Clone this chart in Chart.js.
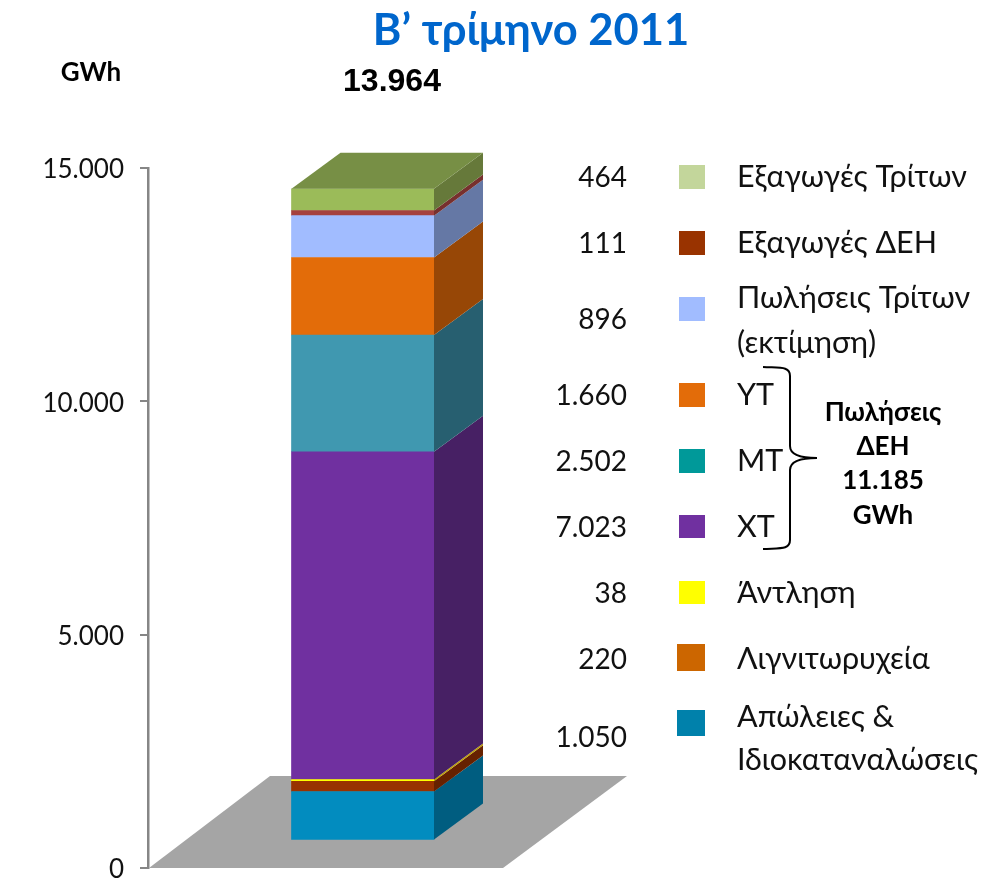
<!DOCTYPE html>
<html>
<head>
<meta charset="utf-8">
<script src="https://cdn.jsdelivr.net/npm/chart.js@4"></script>
<style>
  html, body { margin: 0; padding: 0; background: #fff; }
  #wrap { width: 988px; height: 880px; }
</style>
</head>
<body>
<div id="wrap"><canvas id="chart" width="988" height="880"></canvas></div>
<script>
// bottom to top
var categories = ['Απώλειες & Ιδιοκαταναλώσεις', 'Λιγνιτωρυχεία', 'Άντληση', 'ΧΤ', 'ΜΤ', 'ΥΤ', 'Πωλήσεις Τρίτων (εκτίμηση)', 'Εξαγωγές ΔΕΗ', 'Εξαγωγές Τρίτων'];
var values = [1050, 220, 38, 7023, 2502, 1660, 896, 111, 464];
var valueLabels = ['1.050', '220', '38', '7.023', '2.502', '1.660', '896', '111', '464'];
var yTicks = [0, 5000, 10000, 15000];
var yTickLabels = ['0', '5.000', '10.000', '15.000'];
var totalLabel = '13.964';
var groupLabel = ['Πωλήσεις', 'ΔΕΗ', '11.185', 'GWh'];

var frontColors = ['#028cbf', '#983200', '#ffff00', '#7030a0', '#4098b0', '#e36c09', '#a1bcff', '#a5413f', '#9bbb59'];
var sideColors = ['#005d80', '#662100', '#bfa300', '#472064', '#275f70', '#974706', '#6578a5', '#77302e', '#66793a'];
var legendColors = ['#0081ab', '#cc6600', '#ffff00', '#7030a0', '#009999', '#e36c09', '#a1bcff', '#993300', '#c3d69b'];
var topColor = '#778f45';
var floorColor = '#a5a5a5';

// legend layout, same order as categories
var rowY = [738, 660, 594, 528, 462, 396, 320, 244, 178];
var swatchLeft = [677, 677, 679, 679, 679, 679, 679, 679, 679];
var swatchTop = [710, 644, 581, 515, 449, 383, 297, 231, 165];
var swatchH = [26, 27, 23, 23, 24, 24, 24, 24, 24];
var labelLines = [['Απώλειες &', 'Ιδιοκαταναλώσεις'], ['Λιγνιτωρυχεία'], ['Άντληση'], ['ΧΤ'], ['ΜΤ'], ['ΥΤ'], ['Πωλήσεις Τρίτων', '(εκτίμηση)'], ['Εξαγωγές ΔΕΗ'], ['Εξαγωγές Τρίτων']];
var labelY = [[717, 760], [659], [593], [527], [461], [395], [298, 343], [243], [177]];

var FONT = 'Lato, "Noto Sans", sans-serif';
var BAR_LIFT = 27.5;
var DEPTH_X = 49, DEPTH_Y = 36;

function text(ctx, str, x, y, font, color, align) {
  ctx.font = font;
  ctx.fillStyle = color;
  ctx.textAlign = align || 'left';
  ctx.textBaseline = 'middle';
  ctx.fillText(str, x, y);
}

function poly(ctx, pts, color) {
  ctx.fillStyle = color;
  ctx.beginPath();
  ctx.moveTo(pts[0][0], pts[0][1]);
  for (var i = 1; i < pts.length; i++) ctx.lineTo(pts[i][0], pts[i][1]);
  ctx.closePath();
  ctx.fill();
}

var box3d = {
  id: 'box3d',
  beforeDatasetsDraw: function (chart) {
    var ctx = chart.ctx;
    var y0 = chart.scales.y.getPixelForValue(0);
    var left = chart.chartArea.left;
    // floor
    poly(ctx, [[left + 1, y0], [left + 355, y0], [left + 479, y0 - 92], [left + 122, y0 - 92]], floorColor);
    ctx.save();
    ctx.translate(0, -BAR_LIFT);
  },
  afterDatasetsDraw: function (chart) {
    var ctx = chart.ctx;
    var top;
    categories.forEach(function (c, i) {
      var bar = chart.getDatasetMeta(i).data[0];
      var r = bar.x + bar.width / 2;
      poly(ctx, [[r, bar.base], [r + DEPTH_X, bar.base - DEPTH_Y], [r + DEPTH_X, bar.y - DEPTH_Y], [r, bar.y]], sideColors[i]);
      top = bar;
    });
    var l = top.x - top.width / 2, rr = top.x + top.width / 2;
    poly(ctx, [[l, top.y], [rr, top.y], [rr + DEPTH_X, top.y - DEPTH_Y], [l + DEPTH_X, top.y - DEPTH_Y]], topColor);
    ctx.restore();
  }
};

var annotations = {
  id: 'annotations',
  afterDraw: function (chart) {
    var ctx = chart.ctx;
    text(ctx, 'Β’ τρίμηνο 2011', 531, 31, 'bold 43.5px ' + FONT, '#0066cc', 'center');
    text(ctx, 'GWh', 91, 73, 'bold 26px ' + FONT, '#000', 'center');
    text(ctx, totalLabel, 392, 82, 'bold 32px "Liberation Sans"', '#000', 'center');

    categories.forEach(function (c, i) {
      text(ctx, valueLabels[i], 627, rowY[i], '28px ' + FONT, '#111', 'right');
      ctx.fillStyle = legendColors[i];
      ctx.fillRect(swatchLeft[i], swatchTop[i], 705 - swatchLeft[i], swatchH[i]);
      labelLines[i].forEach(function (line, j) {
        text(ctx, line, 737, labelY[i][j], '30.5px ' + FONT, '#111');
      });
    });

    // brace around ΥΤ / ΜΤ / ΧΤ
    ctx.strokeStyle = '#000';
    ctx.lineWidth = 2;
    ctx.beginPath();
    ctx.moveTo(763, 367);
    ctx.bezierCurveTo(780, 368, 790, 366, 790, 376);
    ctx.lineTo(790, 446);
    ctx.bezierCurveTo(790, 455, 800, 458, 817, 458);
    ctx.bezierCurveTo(800, 458, 790, 461, 790, 470);
    ctx.lineTo(790, 540);
    ctx.bezierCurveTo(790, 550, 780, 548, 763, 549);
    ctx.stroke();

    var groupY = [413, 447, 481, 516];
    groupLabel.forEach(function (line, i) {
      text(ctx, line, 883, groupY[i], 'bold 26px ' + FONT, '#000', 'center');
    });
  }
};

new Chart(document.getElementById('chart'), {
  type: 'bar',
  data: {
    labels: ['Β’ τρίμηνο 2011'],
    datasets: categories.map(function (c, i) {
      return { label: c, data: [values[i]], backgroundColor: frontColors[i], borderWidth: 0, clip: false };
    })
  },
  plugins: [box3d, annotations],
  options: {
    responsive: false,
    animation: false,
    layout: { padding: { top: 168, bottom: 12, left: 0, right: 410.5 } },
    datasets: { bar: { barThickness: 142.5 } },
    plugins: { legend: { display: false }, title: { display: false }, tooltip: { enabled: false } },
    scales: {
      x: { stacked: true, display: false },
      y: {
        stacked: true,
        min: 0,
        max: 15000,
        afterFit: function (axis) {
          axis.width = 148;
          axis.paddingTop = 0;
          axis.paddingBottom = 0;
        },
        afterBuildTicks: function (axis) { axis.ticks = yTicks.map(function (v) { return { value: v }; }); },
        border: { color: '#868686', width: 2.5 },
        grid: { drawOnChartArea: false, color: '#868686', tickLength: 8, lineWidth: 2 },
        ticks: {
          color: '#111',
          padding: 16,
          labelOffset: 2,
          font: { family: 'Lato, "Noto Sans", sans-serif', size: 26 },
          callback: function (v) { return yTickLabels[yTicks.indexOf(v)]; }
        }
      }
    }
  }
});
</script>
</body>
</html>
